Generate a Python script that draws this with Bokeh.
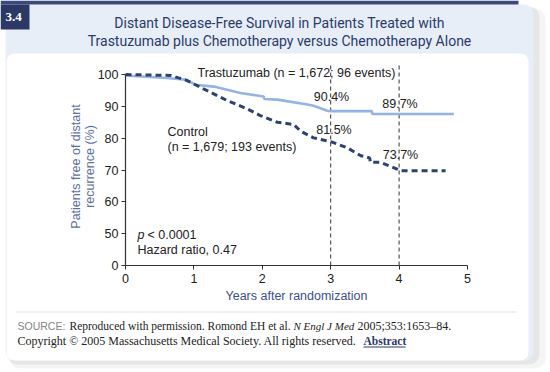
import math
from bokeh.plotting import figure
from bokeh.models import Range1d, FixedTicker, Label, BoxAnnotation, LinearAxis
from bokeh.embed import file_html
from bokeh.resources import INLINE

# ---------------- data ----------------
trast_years = [0, 0.3, 0.6, 0.88, 1.02, 1.29, 1.68, 2.02, 2.03, 2.22, 2.66, 2.75, 2.95, 3.0, 3.6, 3.61, 4.8]
trast_surv = [99.7, 99.3, 98.9, 98.4, 96.8, 96.2, 94.2, 93.1, 92.3, 92.1, 90.6, 90.2, 88.6, 88.5, 88.5, 87.6, 87.6]

control_years = [0, 0.66, 0.9, 1.14, 1.49, 1.78, 1.97, 2.22, 2.46, 2.56, 2.75, 3.0, 3.24, 3.44, 3.57, 3.58, 3.73, 3.97, 4.02, 4.68]
control_surv = [100, 99.7, 98.1, 95.5, 91.8, 89.2, 87.1, 85.0, 84.3, 82.2, 80.1, 78.9, 77.0, 74.5, 73.8, 72.4, 72.4, 70.3, 69.8, 69.8]

landmark_years = [3, 4]
trast_landmark_text = ["90.4%", "89.7%"]
control_landmark_text = ["81.5%", "73.7%"]

x_ticks = [0, 1, 2, 3, 4, 5]
# broken y axis: the lowest tick position (40) is labelled "0"
y_ticks = [40, 50, 60, 70, 80, 90, 100]
y_tick_labels = ["0", "50", "60", "70", "80", "90", "100"]

# ---------------- geometry: page pixel -> data ----------------
W, H = 550, 372
X0_PX, X_PER = 125.0, 68.4      # year 0 at px 125, 68.4 px per year
Y40_PX, Y_PER = 265.0, 3.1833   # value 40 (shown "0") at px 265


def DX(px):
    return (px - X0_PX) / X_PER


def DY(py):
    return 40 + (Y40_PX - py) / Y_PER


p = figure(width=W, height=H, output_backend="svg", toolbar_location=None,
           x_range=Range1d(DX(0), DX(W)), y_range=Range1d(DY(H), DY(0)),
           x_axis_location=None, y_axis_location=None,
           min_border=0, min_border_left=0, min_border_right=0,
           min_border_top=0, min_border_bottom=0,
           background_fill_color="white", border_fill_color="white",
           outline_line_color=None)
p.grid.visible = False


# ---------------- decorative panels ----------------
def box(l, t, r, b, color, alpha=1.0, radius=0):
    ba = BoxAnnotation(left=DX(l), right=DX(r), top=DY(t), bottom=DY(b),
                       fill_color=color, fill_alpha=alpha, line_color=None,
                       level="underlay", border_radius=radius)
    p.add_layout(ba)


box(9, 8, 545, 368, "#000000", 0.04, 10)
box(7, 6, 539, 364, "#000000", 0.06, 10)
box(5, 4, 533, 360, "#e7eef8", 1.0, 9)
box(6, 53, 528, 360, "#ffffff", 1.0, 8)
box(0, 0, 518, 4, "#3b4a78")
box(0, 4, 29, 29, "#2c3966")
box(16, 311, 516, 312, "#e3e3e3")
box(363, 346, 405, 347, "#2c3a6a")

# ---------------- axes ----------------
xaxis = LinearAxis(fixed_location=y_ticks[0], ticker=FixedTicker(ticks=x_ticks),
                   bounds=(x_ticks[0], x_ticks[-1]))
yaxis = LinearAxis(fixed_location=x_ticks[0], ticker=FixedTicker(ticks=y_ticks),
                   bounds=(y_ticks[0], y_ticks[-1]),
                   major_label_overrides={t: lab for t, lab in zip(y_ticks, y_tick_labels)})
for ax in (xaxis, yaxis):
    ax.axis_line_color = "#333333"
    ax.axis_line_width = 1.2
    ax.major_tick_line_color = "#333333"
    ax.major_tick_out = 4
    ax.major_tick_in = 0
    ax.minor_tick_line_color = None
    ax.major_label_text_font = "Liberation Sans"
    ax.major_label_text_font_size = "12.5px"
    ax.major_label_text_color = "#222222"
xaxis.major_label_standoff = 4
yaxis.major_label_standoff = 3
p.add_layout(xaxis, "below")
p.add_layout(yaxis, "left")

# ---------------- landmark lines ----------------
landmark_top = DY(62)
p.segment(x0=landmark_years, y0=[y_ticks[0]] * len(landmark_years),
          x1=landmark_years, y1=[landmark_top] * len(landmark_years),
          line_color="#333333", line_width=1, line_dash="4 3")

# ---------------- curves ----------------
p.line(trast_years, trast_surv, line_color="#95b4e4", line_width=2.6)
p.line(control_years, control_surv, line_color="#2f4171", line_width=3, line_dash="6 4")


# ---------------- texts ----------------
def label(px, py, text, size="12.5px", font="Liberation Sans", color="#222222",
          align="left", style="normal", angle=0.0):
    p.add_layout(Label(x=DX(px), y=DY(py), text=text, text_font=font,
                       text_font_size=size, text_color=color, text_align=align,
                       text_baseline="middle", text_font_style=style, angle=angle))


# badge + title
label(5, 16, "3.4", size="13px", font="Liberation Serif", color="#ffffff", style="bold")
label(279, 22, "Distant Disease-Free Survival in Patients Treated with",
      size="14px", font="Roboto", color="#2c3a6a", align="center")
label(279, 40, "Trastuzumab plus Chemotherapy versus Chemotherapy Alone",
      size="14px", font="Roboto", color="#2c3a6a", align="center")

# series annotations
label(197, 72, "Trastuzumab (n = 1,672; 96 events)")
label(167, 131, "Control")
label(167, 146, "(n = 1,679; 193 events)")
label(331, 96, trast_landmark_text[0], align="center")
label(399.5, 103, trast_landmark_text[1], align="center")
label(333.5, 129.5, control_landmark_text[0], align="center")
label(400, 154, control_landmark_text[1], align="center")
label(137, 234, "p", style="italic")
label(147, 234, "< 0.0001")
label(137, 249.5, "Hazard ratio, 0.47")

# axis titles
label(75, 166, "Patients free of distant", color="#5c6fa6", align="center", angle=math.pi / 2)
label(89, 166, "recurrence (%)", color="#5c6fa6", align="center", angle=math.pi / 2)
label(296, 295, "Years after randomization", color="#3d5090", align="center")

# source
label(17, 325, "SOURCE:", size="10.5px", font="Liberation Sans", color="#858585")
label(69, 325, "Reproduced with permission. Romond EH et al.", size="11.5px",
      font="Liberation Serif", color="#222222")
label(293, 325, "N Engl J Med", size="11px", font="Liberation Serif",
      color="#222222", style="italic")
label(357, 325, "2005;353:1653\u201384.", size="12px", font="Liberation Serif", color="#222222")
label(17, 340, "Copyright \u00a9 2005 Massachusetts Medical Society. All rights reserved.",
      size="12px", font="Liberation Serif", color="#222222")
label(363, 340, "Abstract", size="11.5px", font="Liberation Serif", color="#2c3a6a", style="bold")

open("out.html", "w").write(file_html(p, INLINE))
